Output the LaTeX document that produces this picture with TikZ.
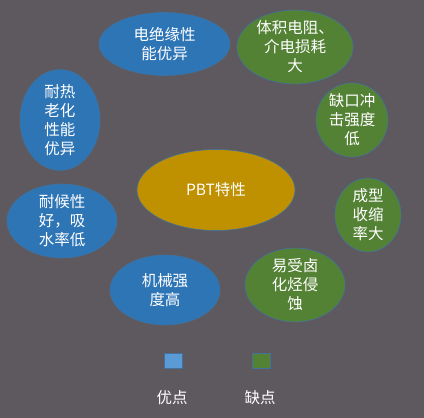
\documentclass[tikz,border=0pt]{standalone}
\usepackage{fontspec}
\newfontfamily\cjk{Noto Sans CJK SC}
\usetikzlibrary{shapes.geometric}
\definecolor{bg}{HTML}{5E595F}
\definecolor{bblue}{HTML}{2E75B6}
\definecolor{bgreen}{HTML}{548235}
\definecolor{bgold}{HTML}{BF9000}
\definecolor{edge}{HTML}{41719C}
\definecolor{lblue}{HTML}{5B9BD5}
\tikzset{
  bub/.style args={#1/#2/#3}{ellipse, draw=edge, line width=0.6pt, fill=#1, inner sep=0pt,
    minimum width=#2pt, minimum height=#3pt, text=white, align=center,
    font=\cjk\fontsize{15.5}{19}\selectfont},
  legbox/.style={draw=edge, line width=0.8pt, minimum width=18pt, minimum height=15pt, inner sep=0pt},
  legtxt/.style={text=white, font=\cjk\fontsize{15.5}{19}\selectfont}
}
\begin{document}
\begin{tikzpicture}[x=1pt,y=-1pt]
\fill[bg] (0,0) rectangle (424,418);
\useasboundingbox (0,0) rectangle (424,418);
\node[bub=bblue/131/63] (a1) at (164.5,44) {电绝缘性\\能优异};
\node[bub=bgreen/116/72] (d1) at (295,47) {体积电阻、\\介电损耗\hspace{0.5em}\\大};
\node[bub=bgreen/72/70] (d2) at (352,120) {缺口冲\\击强度\\低};
\node[bub=bgreen/66/70] (d3) at (368,215) {成型\\收缩\\率大};
\node[bub=bgreen/100/70] (d4) at (295,285) {易受卤\\化烃侵\\蚀};
\node[bub=bblue/110/70] (a2) at (165,290) {机械强\\度高};
\node[bub=bblue/110/72] (a3) at (62,221) {耐候性\\好，吸\\水率低};
\node[bub=bblue/80/94] (a4) at (60,120) {耐热\\老化\\性能\\优异};
\node[bub=bgold/158/81] (c) at (216,190) {PBT特性};
\node[legbox, fill=lblue] (lb) at (173.5,360.5) {};
\node[legbox, fill=bgreen] (lg) at (261.5,360.5) {};
\node[legtxt] (lbt) at (172,398) {优点};
\node[legtxt] (lgt) at (260,398) {缺点};
\end{tikzpicture}
\end{document}
